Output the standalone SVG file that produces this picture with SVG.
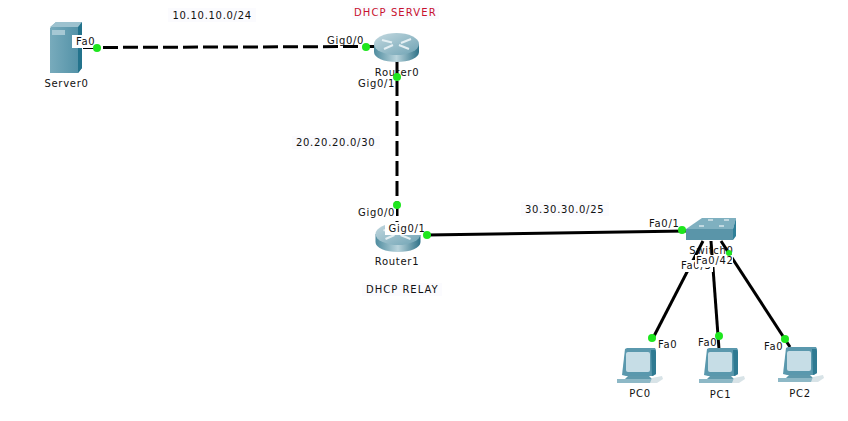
<svg xmlns="http://www.w3.org/2000/svg" width="848" height="421" viewBox="0 0 848 421">
<style>
text{font-family:"DejaVu Sans","Liberation Sans",sans-serif;font-size:10px;fill:#111;letter-spacing:.7px}
.m{text-anchor:middle}
.box{fill:#fff}
.tint{fill:#fbfbfe}
.dash{stroke:#000;stroke-width:3;fill:none;stroke-dasharray:15 5}
.sol{stroke:#000;stroke-width:3;fill:none}
.dot{fill:#1ee61e}
.wide{letter-spacing:1.1px}
</style>
<defs>
<linearGradient id="rg" x1="0" x2="1" y1="0" y2="0"><stop offset="0" stop-color="#4f8c9f"/><stop offset=".5" stop-color="#b9d4dc"/><stop offset="1" stop-color="#2f7288"/></linearGradient>
<linearGradient id="rt" x1="0" x2="1" y1="0" y2="1"><stop offset="0" stop-color="#c4d9e0"/><stop offset="1" stop-color="#6fa3b4"/></linearGradient>
<linearGradient id="sv" x1="0" x2="1" y1="0" y2="0"><stop offset="0" stop-color="#78abbc"/><stop offset="1" stop-color="#4f8fa5"/></linearGradient>
<g id="router">
<path d="M0 11V19C0 25 10 29 22.500 29S45 25 45 19V11Z" fill="url(#rg)"/>
<ellipse cx="22.500" cy="11" rx="22.500" ry="11" fill="url(#rt)"/>
<path d="M8 7L18 9.500M37 6L27 10M10 16L19 12M35 16L25 12" stroke="#e4eff3" stroke-width="2" fill="none"/>
</g>
<g id="pc">
<path d="M0 27L3 1L5 0H33L34 2V26L31 28H4Z" fill="#5a98ad"/>
<path d="M29 2H33L34 4V26L30 28Z" fill="#2f7a92"/>
<rect x="4" y="4" width="24" height="20" rx="2" fill="#c6dde6"/>
<path d="M6 28H27L30 31H3Z" fill="#5f99ac"/>
<path d="M-5 31H31L32 35H-5Z" fill="#8db8c6"/>
<path d="M30 30L40 28L41 31L35 35H28Z" fill="#d8e3e7"/>
</g>
</defs>
<g id="notes">
<rect class="tint" x="168" y="8" width="88" height="14"/><text x="172.500" y="19">10.10.10.0/24</text>
<rect class="tint" x="352" y="6" width="87" height="13"/><text class="wide" x="354" y="16" style="fill:#c8102e">DHCP SERVER</text>
<rect class="tint" x="292" y="136" width="88" height="13"/><text x="296" y="146">20.20.20.0/30</text>
<rect class="tint" x="521" y="202" width="88" height="14"/><text x="525" y="213">30.30.30.0/25</text>
<rect class="tint" x="362" y="283" width="80" height="13"/><text class="wide" x="366" y="293" style="letter-spacing:1px">DHCP RELAY</text>
</g>
<g id="connectors">
<path class="dash" d="M83 47.500L374 46.500"/>
<path class="dash" d="M397 61V222"/>
<path class="sol" d="M427 235L686 231"/>
<path class="sol" d="M703 241L652 340"/>
<path class="sol" d="M711 241L719 349"/>
<path class="sol" d="M721 241L790 347"/>
</g>
<g id="Server0">
<path d="M50 28L56 22H82V68L78 73H50Z" fill="url(#sv)"/>
<path d="M78 25L82 22V68L78 73Z" fill="#23738c"/>
<path d="M50 27L56 22H82L78 27Z" fill="#9dc2cf"/>
<rect x="52" y="30" width="13" height="5" fill="#a6c8d4"/>
<text class="m" x="66.500" y="87">Server0</text>
</g>
<g id="Router0">
<use href="#router" x="374" y="33"/>
<text class="m" x="397" y="76">Router0</text>
</g>
<g id="Router1">
<use href="#router" x="375.500" y="223"/>
<text class="m" x="397" y="265">Router1</text>
</g>
<g id="Switch0">
<path d="M686 229L702 218H736L733 229Z" fill="#7fb0c0"/>
<path d="M686 229H733V240H686Z" fill="#5a95a9"/>
<path d="M733 229L736 218V236L733 240Z" fill="#2f7f98"/>
<path d="M699 226H704M719 226H724M708 220H713M724 220H729" stroke="#d7e6eb" stroke-width="1.500"/>
<text class="m" x="711.500" y="254">Switch0</text>
</g>
<g id="PC0"><use href="#pc" x="622" y="348"/><text class="m" x="640" y="397">PC0</text></g>
<g id="PC1"><use href="#pc" x="704" y="348"/><text class="m" x="720.500" y="398">PC1</text></g>
<g id="PC2"><use href="#pc" x="783" y="347"/><text class="m" x="800" y="397">PC2</text></g>
<g id="port-labels">
<rect class="box" x="72" y="35" width="22" height="13"/><text x="76" y="45">Fa0</text>
<text x="327" y="44">Gig0/0</text>
<rect class="box" x="357" y="79" width="38" height="11"/><text x="358" y="87">Gig0/1</text>
<rect class="box" x="357" y="207" width="39" height="12"/><text x="358" y="216">Gig0/0</text>
<rect class="box" x="385" y="222" width="38" height="13"/><text x="388.500" y="232">Gig0/1</text>
<text x="649" y="227">Fa0/1</text>
<rect class="box" x="681" y="260" width="32" height="12"/><text x="681" y="269">Fa0/3</text>
<rect class="box" x="695" y="255" width="38" height="12"/><text x="696" y="264">Fa0/42</text>
<text x="658" y="348">Fa0</text>
<text x="698" y="346">Fa0</text>
<text x="764" y="350">Fa0</text>
</g>
<g id="dots">
<circle class="dot" cx="97" cy="48" r="4"/>
<circle class="dot" cx="366" cy="47" r="4"/>
<circle class="dot" cx="397" cy="77" r="4"/>
<circle class="dot" cx="397" cy="205" r="4"/>
<circle class="dot" cx="427" cy="235" r="4"/>
<circle class="dot" cx="682" cy="230" r="4"/>
<circle class="dot" cx="729" cy="253" r="3"/>
<circle class="dot" cx="652" cy="338" r="4"/>
<circle class="dot" cx="719" cy="336" r="4"/>
<circle class="dot" cx="785" cy="339" r="4"/>
</g>
</svg>
